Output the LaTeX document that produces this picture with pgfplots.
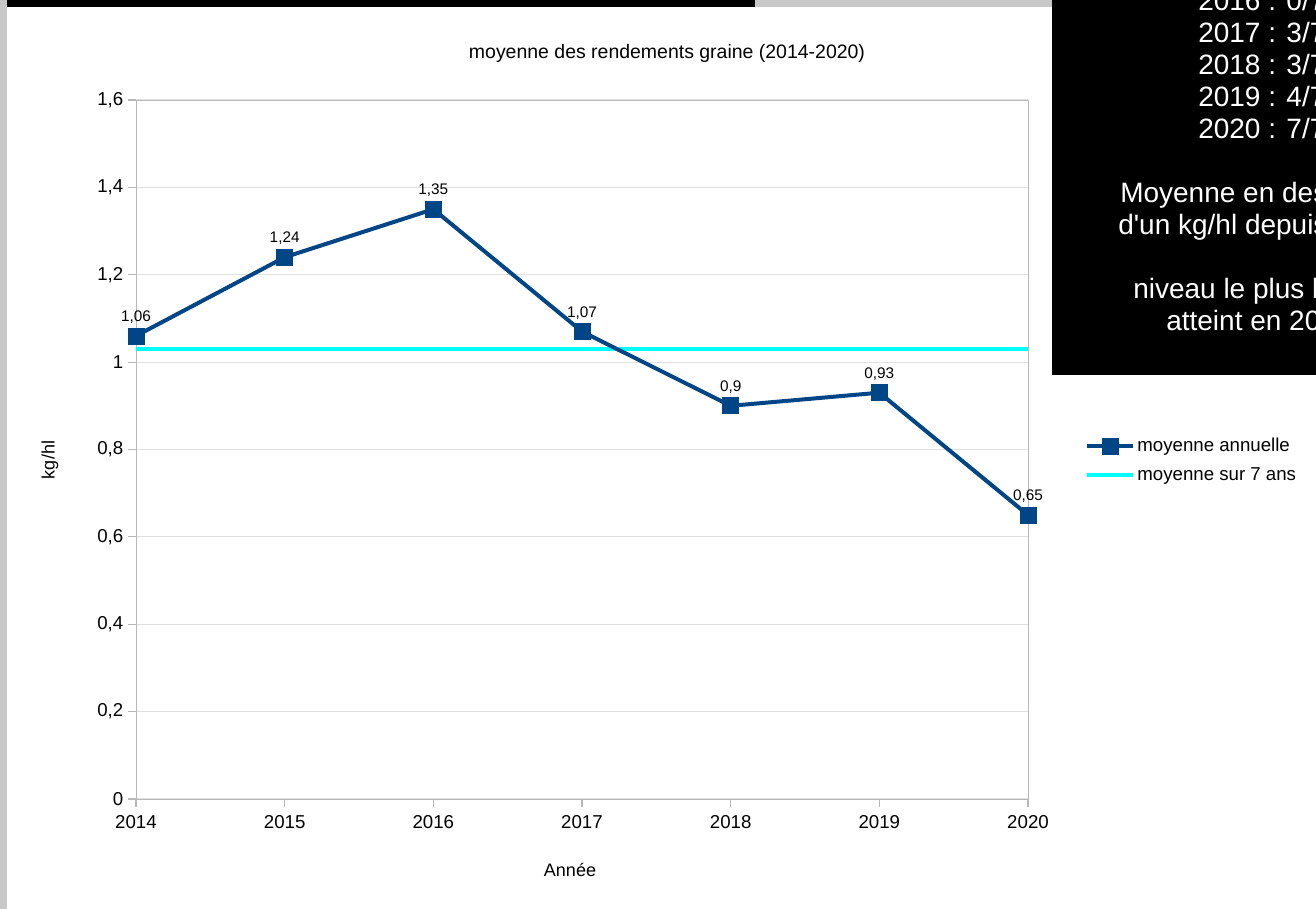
\documentclass[border=0pt]{standalone}
\usepackage{pgfplots}
\pgfplotsset{compat=1.18}
\usepackage{fontspec}
\setmainfont{Liberation Sans}
\newfontfamily\boxfont{Liberation Sans}[Ligatures=TeXOff]
\definecolor{serieblue}{HTML}{004586}
\definecolor{avgcyan}{HTML}{00FFFF}
\definecolor{framegray}{HTML}{C8C8C8}
\begin{document}
\begin{tikzpicture}[x=0.75pt,y=0.75pt]
\useasboundingbox (0,0) rectangle (1316,909);
\fill[white] (0,0) rectangle (1316,909);
\fill[framegray] (0,0) rectangle (7,909);
\fill[black] (7,902) rectangle (755,909);
\fill[framegray] (755,902) rectangle (1052,909);
\begin{axis}[
  at={(102pt,82.5pt)}, anchor=south west,
  scale only axis, width=669pt, height=524.25pt,
  xmin=2014, xmax=2020, ymin=0, ymax=1.6,
  xtick={2014,2015,2016,2017,2018,2019,2020},
  ytick={0,0.2,0.4,0.6,0.8,1,1.2,1.4,1.6},
  /pgf/number format/.cd, use comma, 1000 sep={}, assume math mode=true,
  /pgfplots/.cd,
  tick label style={font=\fontsize{14}{16}\selectfont, black},
  xticklabel style={yshift=-3pt},
  axis line style={draw=black!28},
  ymajorgrids, major grid style={draw=black!12, line width=0.8pt},
  xtick pos=left, ytick pos=left,
  tick align=outside, major tick length=6pt,
  tick style={draw=black!28, line width=0.8pt},
  reverse legend,
  legend image code/.code={\draw[mark repeat=2,mark phase=2,#1] plot coordinates {(0pt,0pt) (17pt,0pt) (34pt,0pt)};},
  legend style={draw=none, fill=none, at={(rel axis cs:1.064,0.52)}, anchor=north west,
    font=\fontsize{14}{16}\selectfont, row sep=6.5pt, inner sep=0pt, legend cell align=left},
]
\addplot[avgcyan, line width=3pt] coordinates {(2014,1.03) (2020,1.03)};
\addlegendentry{moyenne sur 7 ans}
\addplot[serieblue, line width=3pt, mark=square*, mark size=6pt,
  mark options={solid, line width=0.6pt},
  nodes near coords,
  every node near coord/.append style={font=\fontsize{11.5}{13}\selectfont, black, inner sep=0pt, anchor=south, yshift=9pt}]
  coordinates {(2014,1.06) (2015,1.24) (2016,1.35) (2017,1.07) (2018,0.9) (2019,0.93) (2020,0.65)};
\addlegendentry{moyenne annuelle}
\end{axis}
\node[font=\fontsize{14.6}{17}\selectfont] at (667,856) {moyenne des rendements graine (2014-2020)};
\node[font=\fontsize{13.5}{16}\selectfont, rotate=90] at (50,449) {kg/hl};
\node[font=\fontsize{13.5}{16}\selectfont] at (570,39) {Année};
\fill[black] (1052,534) rectangle (1316,909);
\begin{scope}
\clip (1052,534) rectangle (1316,909);
\begin{scope}[every node/.style={white, anchor=base west, inner sep=0pt, font=\boxfont\fontsize{21}{25}\selectfont}]
\node at (1198,898) {2016 : 0/7};
\node at (1198,866) {2017 : 3/7};
\node at (1198,834) {2018 : 3/7};
\node at (1198,802) {2019 : 4/7};
\node at (1198,770) {2020 : 7/7};
\node at (1120,706) {Moyenne en dessous};
\node at (1118,674) {d'un kg/hl depuis 2018};
\node at (1133,610) {niveau le plus bas};
\node at (1166,578) {atteint en 2020};
\end{scope}
\end{scope}
\end{tikzpicture}
\end{document}
